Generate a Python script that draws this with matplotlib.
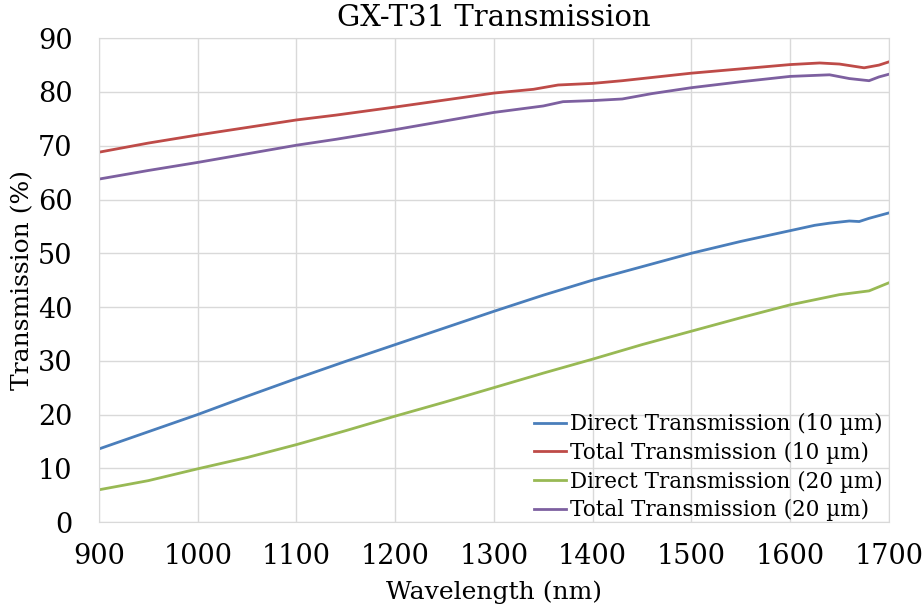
import matplotlib
matplotlib.use("Agg")
import matplotlib.pyplot as plt

# wavelength grid (nm) and values
WL_DIRECT10 = [900, 950, 1000, 1050, 1100, 1150, 1200, 1250, 1300, 1350, 1400, 1450,
               1500, 1550, 1600, 1625, 1640, 1660, 1670, 1680, 1700]
DIRECT10 = [13.6, 16.8, 20.0, 23.4, 26.7, 29.9, 33.0, 36.1, 39.2, 42.2, 45.0, 47.5,
            50.0, 52.2, 54.2, 55.2, 55.6, 56.0, 55.9, 56.5, 57.5]

WL_TOTAL10 = [900, 950, 1000, 1050, 1100, 1140, 1200, 1250, 1300, 1340, 1365, 1400,
              1430, 1500, 1550, 1600, 1630, 1650, 1675, 1690, 1700]
TOTAL10 = [68.8, 70.5, 72.0, 73.4, 74.8, 75.7, 77.2, 78.5, 79.8, 80.5, 81.3, 81.6,
           82.1, 83.5, 84.3, 85.1, 85.4, 85.2, 84.5, 85.0, 85.6]

WL_DIRECT20 = [900, 950, 1000, 1050, 1100, 1150, 1200, 1250, 1300, 1350, 1400, 1450,
               1500, 1550, 1600, 1650, 1680, 1700]
DIRECT20 = [6.0, 7.7, 9.9, 12.0, 14.4, 17.0, 19.7, 22.3, 25.0, 27.7, 30.3, 33.0,
            35.5, 38.0, 40.4, 42.3, 43.0, 44.5]

WL_TOTAL20 = [900, 950, 1000, 1050, 1100, 1140, 1200, 1250, 1300, 1350, 1370, 1400,
              1430, 1460, 1500, 1550, 1600, 1640, 1660, 1680, 1690, 1700]
TOTAL20 = [63.8, 65.4, 66.9, 68.5, 70.1, 71.2, 73.0, 74.6, 76.2, 77.4, 78.2, 78.4,
           78.7, 79.7, 80.8, 81.9, 82.9, 83.2, 82.5, 82.1, 82.8, 83.3]

SERIES = [
    ("Direct Transmission (10 µm)", WL_DIRECT10, DIRECT10, "#4a7ebb"),
    ("Total Transmission (10 µm)", WL_TOTAL10, TOTAL10, "#be4b48"),
    ("Direct Transmission (20 µm)", WL_DIRECT20, DIRECT20, "#98b954"),
    ("Total Transmission (20 µm)", WL_TOTAL20, TOTAL20, "#7d60a0"),
]

plt.rcParams["font.family"] = ["DejaVu Serif"]

fig = plt.figure(figsize=(9.22, 6.07), dpi=100)
ax = fig.add_axes([0.1074, 0.140, 0.8566, 0.797])

for label, x, y, c in SERIES:
    ax.plot(x, y, color=c, linewidth=2, label=label)

ax.set_xlim(900, 1700)
ax.set_ylim(0, 90)
ax.set_xticks(range(900, 1701, 100))
ax.set_yticks(range(0, 91, 10))
ax.grid(True, color="#d9d9d9", linewidth=1)
ax.set_axisbelow(True)
for s in ax.spines.values():
    s.set_color("#d9d9d9")
ax.tick_params(length=0, labelsize=19.5)
ax.tick_params(axis="y", pad=19)
ax.tick_params(axis="x", pad=15)

ax.set_title("GX-T31 Transmission", fontsize=21, pad=9)
ax.set_xlabel("Wavelength (nm)", fontsize=18, labelpad=8)
ax.set_ylabel("Transmission (%)", fontsize=18, labelpad=3)

ax.legend(loc="lower right", bbox_to_anchor=(1.0, -0.012), frameon=False,
          fontsize=15.5, handlelength=1.5, handletextpad=0.15,
          labelspacing=0.31, borderaxespad=0.0, borderpad=0.3)

fig.savefig("out.png", dpi=100)
